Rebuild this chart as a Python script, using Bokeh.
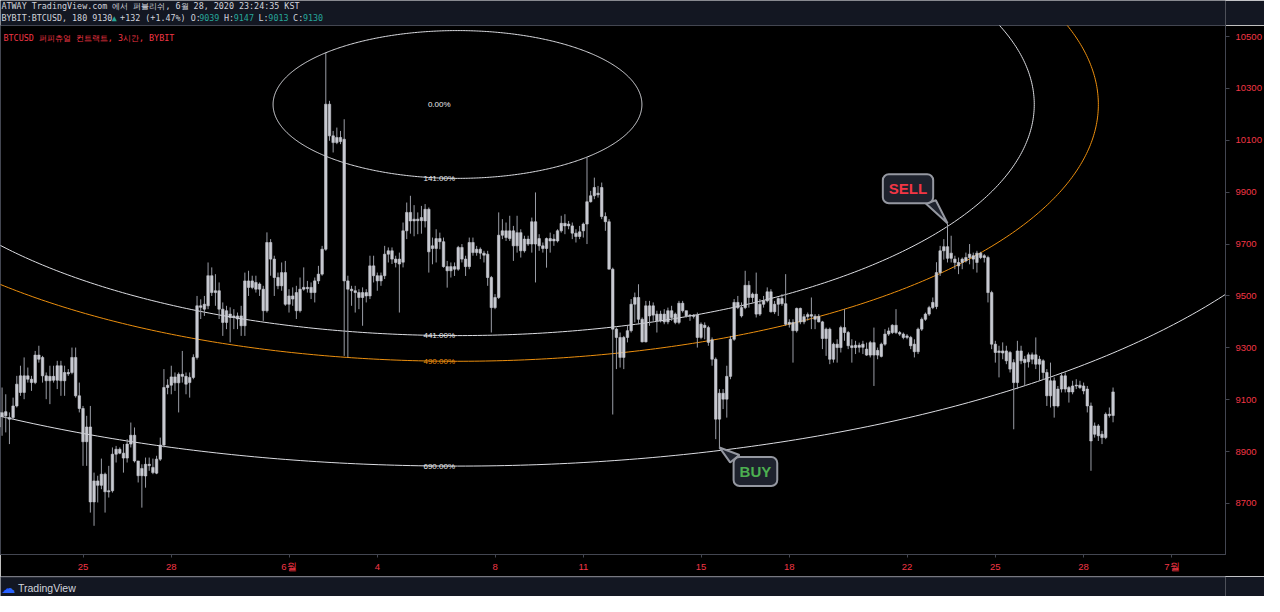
import numpy as np
import pandas as pd
from bokeh.plotting import figure
from bokeh.layouts import column
from bokeh.models import ColumnDataSource, FixedTicker, Label
from bokeh.core.properties import value
from bokeh.embed import file_html
from bokeh.resources import INLINE

# ---------------- data (BYBIT:BTCUSD, 3h candles) ----------------
bar_start = "2020-05-22 03:00"
axis_origin = "2020-05-25 00:00"

open_ = [
    8995, 9050, 9038, 9031, 9031, 9076, 9128, 9192, 9179, 9179,
    9166, 9272, 9263, 9192, 9173, 9190, 9175, 9231, 9173, 9205,
    9205, 9263, 9115, 9066, 8938, 8995, 8706, 8787, 8770, 8813,
    8745, 8749, 8890, 8909, 8894, 8875, 8929, 8963, 8864, 8807,
    8806, 8851, 8839, 8817, 8871, 8925, 9147, 9156, 9188, 9165,
    9198, 9190, 9166, 9186, 9263, 9462, 9449, 9462, 9578, 9513,
    9520, 9449, 9398, 9430, 9417, 9423, 9423, 9385, 9558, 9533,
    9552, 9526, 9526, 9443, 9706, 9642, 9571, 9539, 9590, 9468,
    9500, 9513, 9443, 9526, 9533, 9533, 9513, 9558, 9584, 9680,
    10239, 10117, 10091, 10111, 10104, 9558, 9526, 9520, 9513, 9494,
    9513, 9500, 9616, 9578, 9558, 9578, 9661, 9674, 9642, 9623,
    9630, 9751, 9822, 9789, 9796, 9790, 9789, 9834, 9683, 9683,
    9721, 9709, 9613, 9597, 9613, 9603, 9687, 9642, 9613, 9706,
    9667, 9680, 9665, 9661, 9571, 9455, 9494, 9734, 9751, 9721,
    9751, 9693, 9744, 9674, 9719, 9700, 9786, 9693, 9693, 9683,
    9721, 9712, 9712, 9751, 9780, 9770, 9770, 9742, 9729, 9751,
    9777, 9863, 9886, 9890, 9918, 9806, 9786, 9603, 9372, 9340,
    9263, 9340, 9366, 9468, 9494, 9410, 9323, 9462, 9426, 9430,
    9404, 9430, 9400, 9443, 9430, 9398, 9472, 9443, 9423, 9426,
    9426, 9340, 9387, 9378, 9331, 9256, 9025, 9125, 9102, 9190,
    9333, 9475, 9455, 9455, 9541, 9494, 9507, 9430, 9468, 9481,
    9516, 9439, 9468, 9490, 9470, 9391, 9398, 9366, 9452, 9400,
    9420, 9428, 9422, 9400, 9400, 9336, 9372, 9256, 9314, 9301,
    9378, 9359, 9308, 9301, 9310, 9302, 9295, 9272, 9320, 9272,
    9267, 9314, 9353, 9359, 9387, 9359, 9353, 9340, 9340, 9314,
    9285, 9372, 9410, 9430, 9455, 9459, 9590, 9674, 9690, 9645,
    9642, 9629, 9629, 9635, 9648, 9655, 9629, 9665, 9648, 9648,
    9513, 9314, 9282, 9288, 9288, 9282, 9243, 9166, 9288, 9256,
    9246, 9273, 9237, 9256, 9250, 9205, 9115, 9173, 9076, 9141,
    9192, 9147, 9130, 9153, 9156, 9153, 9141, 9076, 8967, 8999,
    8967, 8954, 9044, 9039,
]
high = [
    9089, 9147, 9121, 9051, 9108, 9192, 9231, 9263, 9224, 9192,
    9288, 9308, 9269, 9205, 9231, 9231, 9250, 9250, 9231, 9218,
    9301, 9301, 9166, 9076, 9038, 9076, 8819, 8807, 8873, 8819,
    8845, 8916, 8922, 8916, 8929, 8948, 9012, 8993, 8864, 8851,
    8877, 8877, 8873, 8884, 8954, 9218, 9179, 9231, 9205, 9205,
    9288, 9205, 9205, 9275, 9500, 9487, 9500, 9629, 9610, 9584,
    9552, 9475, 9462, 9456, 9449, 9436, 9462, 9590, 9597, 9578,
    9578, 9552, 9539, 9745, 9719, 9655, 9590, 9629, 9635, 9526,
    9533, 9539, 9571, 9610, 9558, 9552, 9571, 9616, 9693, 10438,
    10252, 10136, 10149, 10136, 10181, 9578, 9539, 9539, 9526, 9533,
    9526, 9655, 9655, 9590, 9590, 9693, 9687, 9687, 9655, 9667,
    9783, 9860, 9886, 9850, 9822, 9847, 9854, 9841, 9725, 9757,
    9744, 9725, 9635, 9629, 9629, 9693, 9700, 9655, 9725, 9725,
    9693, 9687, 9674, 9674, 9577, 9507, 9822, 9796, 9783, 9809,
    9770, 9809, 9757, 9732, 9732, 9802, 9899, 9738, 9706, 9725,
    9744, 9738, 9757, 9809, 9815, 9789, 9783, 9757, 9770, 9783,
    10034, 9905, 9956, 9924, 9937, 9822, 9796, 9609, 9378, 9359,
    9346, 9385, 9488, 9513, 9545, 9417, 9481, 9481, 9475, 9443,
    9443, 9449, 9455, 9462, 9436, 9481, 9481, 9443, 9430, 9430,
    9436, 9398, 9398, 9385, 9340, 9263, 9141, 9141, 9231, 9346,
    9488, 9500, 9475, 9597, 9558, 9513, 9590, 9488, 9500, 9533,
    9526, 9481, 9494, 9507, 9584, 9410, 9410, 9455, 9455, 9430,
    9436, 9494, 9430, 9430, 9404, 9378, 9378, 9320, 9333, 9385,
    9449, 9365, 9333, 9327, 9320, 9327, 9320, 9327, 9378, 9301,
    9320, 9372, 9378, 9391, 9449, 9365, 9359, 9353, 9346, 9333,
    9378, 9417, 9436, 9462, 9494, 9630, 9693, 9719, 9780, 9732,
    9655, 9648, 9648, 9667, 9700, 9667, 9674, 9670, 9661, 9655,
    9520, 9327, 9308, 9321, 9308, 9288, 9256, 9327, 9308, 9269,
    9282, 9282, 9340, 9269, 9256, 9218, 9243, 9186, 9153, 9205,
    9205, 9153, 9173, 9179, 9173, 9166, 9153, 9089, 9012, 9006,
    8980, 9051, 9070, 9147,
]
low = [
    8800, 8961, 8974, 8929, 9025, 9070, 9115, 9102, 9166, 9134,
    9160, 9243, 9166, 9102, 9083, 9166, 9141, 9115, 9115, 9192,
    9198, 9108, 9051, 8845, 8845, 8665, 8614, 8704, 8755, 8665,
    8723, 8742, 8858, 8890, 8819, 8858, 8916, 8858, 8781, 8684,
    8761, 8826, 8813, 8813, 8864, 8916, 9121, 9121, 9134, 9051,
    9166, 9121, 9108, 9179, 9255, 9411, 9423, 9449, 9500, 9462,
    9411, 9346, 9372, 9321, 9372, 9372, 9346, 9346, 9500, 9526,
    9513, 9500, 9404, 9436, 9578, 9500, 9526, 9520, 9462, 9436,
    9462, 9411, 9436, 9520, 9513, 9488, 9475, 9546, 9578, 9674,
    10098, 10053, 10085, 10085, 9269, 9263, 9462, 9436, 9449, 9385,
    9475, 9488, 9552, 9520, 9539, 9565, 9629, 9623, 9610, 9436,
    9610, 9719, 9740, 9730, 9738, 9740, 9764, 9590, 9622, 9629,
    9680, 9609, 9532, 9571, 9577, 9597, 9629, 9577, 9603, 9655,
    9655, 9642, 9629, 9539, 9359, 9449, 9488, 9719, 9712, 9712,
    9635, 9667, 9648, 9667, 9693, 9667, 9552, 9674, 9667, 9609,
    9667, 9693, 9706, 9744, 9738, 9757, 9719, 9706, 9719, 9725,
    9700, 9860, 9873, 9879, 9796, 9751, 9603, 9043, 9218, 9224,
    9218, 9321, 9359, 9398, 9391, 9321, 9321, 9385, 9404, 9359,
    9398, 9391, 9391, 9404, 9391, 9391, 9436, 9417, 9404, 9413,
    9301, 9333, 9333, 9308, 9231, 8948, 8916, 9064, 9031, 9179,
    9327, 9449, 9417, 9449, 9455, 9475, 9417, 9423, 9455, 9475,
    9436, 9430, 9423, 9462, 9385, 9378, 9243, 9359, 9391, 9391,
    9405, 9372, 9372, 9398, 9295, 9269, 9237, 9243, 9243, 9282,
    9327, 9295, 9243, 9276, 9282, 9276, 9269, 9263, 9153, 9256,
    9263, 9308, 9346, 9353, 9353, 9346, 9333, 9333, 9295, 9263,
    9276, 9365, 9404, 9423, 9449, 9449, 9577, 9640, 9629, 9629,
    9603, 9584, 9603, 9629, 9622, 9603, 9590, 9642, 9629, 9475,
    9295, 9243, 9186, 9256, 9237, 9205, 8986, 9141, 9237, 9153,
    9224, 9237, 9218, 9173, 9179, 9076, 9070, 9031, 9070, 9128,
    9128, 9089, 9121, 9141, 9141, 9121, 9051, 8826, 8954, 8941,
    8929, 8948, 9031, 9013,
]
close = [
    9051, 9035, 9054, 9025, 9076, 9160, 9192, 9128, 9192, 9166,
    9272, 9256, 9192, 9173, 9190, 9175, 9231, 9173, 9205, 9200,
    9263, 9115, 9066, 8938, 8995, 8706, 8787, 8770, 8813, 8745,
    8749, 8890, 8909, 8894, 8875, 8929, 8963, 8864, 8807, 8835,
    8851, 8846, 8819, 8871, 8925, 9147, 9156, 9188, 9165, 9198,
    9190, 9160, 9186, 9263, 9462, 9456, 9468, 9578, 9513, 9520,
    9449, 9398, 9443, 9417, 9423, 9411, 9385, 9558, 9533, 9558,
    9526, 9546, 9443, 9706, 9642, 9571, 9539, 9590, 9468, 9500,
    9488, 9443, 9526, 9533, 9528, 9513, 9558, 9584, 9680, 10239,
    10117, 10091, 10111, 10095, 9558, 9526, 9520, 9513, 9494, 9513,
    9500, 9616, 9578, 9558, 9578, 9661, 9674, 9642, 9629, 9642,
    9751, 9822, 9789, 9796, 9790, 9802, 9834, 9670, 9693, 9721,
    9709, 9613, 9597, 9613, 9603, 9687, 9642, 9613, 9706, 9667,
    9680, 9665, 9657, 9571, 9455, 9494, 9734, 9751, 9725, 9751,
    9693, 9744, 9674, 9719, 9700, 9786, 9700, 9721, 9683, 9721,
    9712, 9719, 9751, 9780, 9770, 9777, 9742, 9729, 9747, 9777,
    9863, 9886, 9918, 9896, 9806, 9786, 9603, 9372, 9340, 9263,
    9340, 9366, 9468, 9494, 9410, 9323, 9462, 9423, 9462, 9404,
    9430, 9400, 9443, 9417, 9398, 9472, 9443, 9423, 9426, 9421,
    9340, 9391, 9378, 9321, 9256, 9025, 9125, 9102, 9190, 9333,
    9475, 9455, 9423, 9541, 9494, 9507, 9430, 9468, 9481, 9516,
    9439, 9468, 9490, 9470, 9391, 9398, 9366, 9452, 9400, 9420,
    9428, 9422, 9410, 9421, 9336, 9372, 9256, 9314, 9301, 9378,
    9359, 9308, 9301, 9310, 9302, 9314, 9272, 9320, 9272, 9290,
    9314, 9353, 9365, 9387, 9359, 9353, 9340, 9346, 9308, 9285,
    9372, 9410, 9430, 9455, 9475, 9590, 9674, 9690, 9645, 9665,
    9629, 9616, 9642, 9648, 9661, 9642, 9665, 9648, 9655, 9513,
    9314, 9282, 9288, 9280, 9250, 9218, 9166, 9288, 9250, 9243,
    9273, 9256, 9273, 9237, 9205, 9115, 9173, 9076, 9141, 9192,
    9141, 9130, 9153, 9156, 9147, 9134, 9076, 8941, 8999, 8961,
    8954, 9044, 9039, 9130,
]

tick_dates = ["2020-05-25", "2020-05-28", "2020-06-01", "2020-06-04", "2020-06-08", "2020-06-11",
              "2020-06-15", "2020-06-18", "2020-06-22", "2020-06-25", "2020-06-28", "2020-07-01"]
tick_labels = ["25", "28", "6월", "4", "8", "11", "15", "18", "22", "25", "28", "7월"]
price_ticks = [8700, 8900, 9100, 9300, 9500, 9700, 9900, 10100, 10300, 10500]

# Fib circles drawing tool
fib_levels = [0.0, 1.41, 4.41, 4.90, 6.90]
fib_labels = ["0.00%", "141.00%", "441.00%", "490.00%", "690.00%"]
fib_center_time = "2020-06-06 17:24"
fib_center_price = 10238
fib_unit_days = 4.444
fib_unit_price = 202.0

signal_texts = ["SELL", "BUY"]
signal_bars = [258, 196]

header1 = "ATWAY TradingView.com 에서 퍼블리쉬, 6월 28, 2020 23:24:35 KST"
header2 = [("BYBIT:BTCUSD, 180 9130", "txt"), ("▲", "up"), (" +132 (+1.47%) O:", "txt"), ("9039", "up"),
           (" H:", "txt"), ("9147", "up"), (" L:", "txt"), ("9013", "up"), (" C:", "txt"), ("9130", "up")]
chart_title = "BTCUSD 퍼피츄얼 컨트랙트, 3시간, BYBIT"
brand = "TradingView"

# ---------------- geometry helpers (screen px -> data) ----------------
PX_DAY = 29.43
X0_PX = 90.5
PX_USD = 0.25944
Y0_PX = 44.0
Y0_PRICE = 10500.0


def sx(px):
    return (px - X0_PX) / PX_DAY


def sy(py):
    return Y0_PRICE - (py - Y0_PX) / PX_USD


origin = pd.Timestamp(axis_origin)
n = min(len(open_), len(high), len(low), len(close))
times = pd.date_range(bar_start, periods=n, freq="3h")
xs = np.asarray((times - origin) / pd.Timedelta(days=1), dtype=float)
o = np.array(open_[:n], float)
c = np.array(close[:n], float)
src = ColumnDataSource(dict(x=xs, high=high[:n], low=low[:n],
                            top=np.maximum(o, c), bottom=np.minimum(o, c)))

BG = "#000000"
PANEL = "#131722"
GRIDLINE = "#434651"
TXT = "#d1d4dc"
RED = "#f23645"
TEAL = "#26a69a"
WHITE_ARC = "#dcdde2"
ORANGE = "#ec8f0e"
MONO = "DejaVu Sans Mono"
MONO_SIZE = "8.4px"
CW = 5.1
W = 1264
HEAD_H = 25
FOOT_H = 20
MAIN_H = 596 - HEAD_H - FOOT_H

# ---------------- header strip ----------------
head = figure(width=W, height=HEAD_H, x_range=(0, W), y_range=(HEAD_H, 0),
              output_backend="svg", toolbar_location=None,
              x_axis_location=None, y_axis_location=None,
              background_fill_color=PANEL, border_fill_color=PANEL,
              min_border=0)
head.outline_line_color = None
head.grid.visible = False
hx, hy, ht, hc = [1], [5.5], [header1], [TXT]
pos = 0
for s, kind in header2:
    lead = len(s) - len(s.lstrip(" "))
    hx.append(1 + (pos + lead) * CW + (1.5 if kind == "up" and s == "▲" else 0))
    hy.append(17)
    ht.append(s.strip(" "))
    hc.append(TEAL if kind == "up" else TXT)
    pos += len(s)
head.text(x=hx, y=hy, text=ht, text_color=hc, text_align="left", text_baseline="middle",
          text_font=value(MONO), text_font_size=MONO_SIZE)

# ---------------- main chart ----------------
p = figure(width=W, height=MAIN_H,
           x_range=(sx(8), sx(1233)), y_range=(sy(562), sy(33)),
           y_axis_location="right",
           output_backend="svg", toolbar_location=None,
           background_fill_color=BG, border_fill_color=BG,
           min_border_left=0, min_border_right=39,
           min_border_top=0, min_border_bottom=MAIN_H - 529)
p.outline_line_color = GRIDLINE
p.grid.visible = False

# fib circles
cx = float((pd.Timestamp(fib_center_time) - origin) / pd.Timedelta(days=1))
cy = fib_center_price
t = np.linspace(0, 2 * np.pi, 721)
for lvl, lab in zip(fib_levels, fib_labels):
    col = ORANGE if lab.startswith("490") else WHITE_ARC
    if lvl > 0:
        p.line(cx + lvl * fib_unit_days * np.cos(t), cy + lvl * fib_unit_price * np.sin(t),
               line_color=col, line_width=1)
lab_src = ColumnDataSource(dict(
    x=[cx - 0.62] * len(fib_levels),
    y=[cy - lvl * fib_unit_price for lvl in fib_levels],
    text=fib_labels,
    color=[ORANGE if l.startswith("490") else "#e8e9ed" for l in fib_labels]))
p.text(x="x", y="y", text="text", text_color="color", source=lab_src,
       text_align="center", text_baseline="middle",
       text_font=value("Liberation Sans"), text_font_size="8px")

# candles
p.segment(x0="x", y0="low", x1="x", y1="high", source=src, line_color="#9a9da6", line_width=1)
p.vbar(x="x", width=0.085, top="top", bottom="bottom", source=src,
       fill_color="#c8cad1", line_color="#c8cad1", line_width=0.6)

# chart title inside the pane
p.text(x=[sx(11)], y=[sy(45)], text=[chart_title], text_color=RED,
       text_align="left", text_baseline="middle",
       text_font=value(MONO), text_font_size=MONO_SIZE)


# callouts
def callout(text, bar, color, tip_on_high, box_off, base1, base2):
    tx = xs[bar]
    ty = high[bar] if tip_on_high else low[bar]
    px = [tx, tx + base1[0] / PX_DAY, tx + base2[0] / PX_DAY]
    py = [ty, ty + base1[1] / PX_USD, ty + base2[1] / PX_USD]
    p.patch(px, py, fill_color="#1e222d", line_color="#9598a1", line_width=2)
    lab = Label(x=tx + box_off[0] / PX_DAY, y=ty + box_off[1] / PX_USD, text=text,
                text_align="center", text_baseline="middle",
                text_font="Liberation Sans", text_font_style="bold", text_font_size="15px",
                text_color=color, background_fill_color="#1e222d",
                border_line_color="#9598a1", border_line_width=2)
    try:
        lab.padding = 6
        lab.border_radius = 6
    except Exception:
        pass
    p.add_layout(lab)


callout(signal_texts[0], signal_bars[0], "#f23645", True, (-39.5, 34.5), (-21.7, 19.7), (-11.7, 23.0))
callout(signal_texts[1], signal_bars[1], "#4caf50", False, (36.0, -24.0), (10.7, -15.0), (20.0, -7.6))

# axes
tick_x = [int(round((pd.Timestamp(d) - origin) / pd.Timedelta(days=1))) for d in tick_dates]
p.xaxis.ticker = FixedTicker(ticks=tick_x)
p.xaxis.major_label_overrides = {k: v for k, v in zip(tick_x, tick_labels)}
p.yaxis.ticker = FixedTicker(ticks=price_ticks)
for ax in (p.xaxis, p.yaxis):
    ax.axis_line_color = GRIDLINE
    ax.major_tick_line_color = GRIDLINE
    ax.minor_tick_line_color = None
    ax.major_tick_in = 0
    ax.major_label_text_color = RED
    ax.major_label_text_font = "Liberation Sans"
    ax.major_label_text_font_size = "9.5px"
p.xaxis.major_tick_out = 3
p.yaxis.major_tick_out = 4
p.xaxis.major_label_standoff = 3
p.yaxis.major_label_standoff = 6

# ---------------- footer strip ----------------
foot = figure(width=W, height=FOOT_H, x_range=(0, W), y_range=(FOOT_H, 0),
              output_backend="svg", toolbar_location=None,
              x_axis_location=None, y_axis_location=None,
              background_fill_color=PANEL, border_fill_color=PANEL,
              min_border=0)
foot.outline_line_color = None
foot.grid.visible = False
foot.line(x=[0, W], y=[0.5, 0.5], line_color=GRIDLINE, line_width=1)
foot.text(x=[1], y=[11], text=["☁"], text_color="#2962ff", text_align="left",
          text_baseline="middle", text_font=value("DejaVu Sans"), text_font_size="14px")
foot.text(x=[18], y=[11], text=[brand], text_color=TXT, text_align="left",
          text_baseline="middle", text_font=value("Liberation Sans"), text_font_size="10.5px")

page = column(head, p, foot, spacing=0)
open("out.html", "w").write(file_html(page, INLINE))
